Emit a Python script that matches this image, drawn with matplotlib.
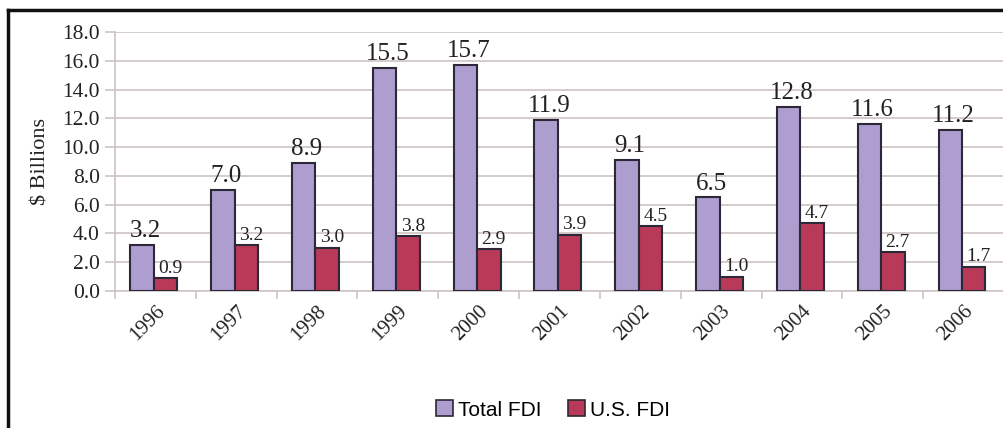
import numpy as np
import matplotlib
matplotlib.use("Agg")
import matplotlib.pyplot as plt
import matplotlib.transforms as mtrans
from matplotlib.patches import Patch
from matplotlib.lines import Line2D

# --- データ ---
years = ["1996", "1997", "1998", "1999", "2000", "2001",
         "2002", "2003", "2004", "2005", "2006"]
total_fdi = [3.2, 7.0, 8.9, 15.5, 15.7, 11.9, 9.1, 6.5, 12.8, 11.6, 11.2]
us_fdi = [0.9, 3.2, 3.0, 3.8, 2.9, 3.9, 4.5, 1.0, 4.7, 2.7, 1.7]
yticks = np.arange(0, 18.1, 2.0)

SERIF = "Liberation Serif"
SANS = "Liberation Sans"
C_TOTAL = "#ae9ecf"
C_US = "#b83a58"
EDGE = "#2c2838"
GRID = "#cdc4c4"
TXT = "#222222"

fig = plt.figure(figsize=(10.04, 4.28), dpi=100)
ax = fig.add_axes([115 / 1004, 1 - 291 / 428, (1004 - 115) / 1004, (291 - 32) / 428])

x = np.arange(len(years)) + 0.5
w = 0.29
x_tot = x - 0.165
x_us = x + 0.125

ax.bar(x_tot, total_fdi, width=w, color=C_TOTAL, edgecolor=EDGE, linewidth=1.5, zorder=3)
ax.bar(x_us, us_fdi, width=w, color=C_US, edgecolor=EDGE, linewidth=1.5, zorder=3)

# データラベル
for xi, v in zip(x_tot, total_fdi):
    ax.text(xi + 0.04, v + 0.2, f"{v:.1f}", ha="center", va="bottom",
            fontsize=18, family=SERIF, color=TXT)
for xi, v in zip(x_us, us_fdi):
    ax.text(xi + 0.06, v + 0.1, f"{v:.1f}", ha="center", va="bottom",
            fontsize=14, family=SERIF, color=TXT)

ax.set_xlim(0, len(years))
ax.set_ylim(0, 18)
ax.set_yticks(yticks)
ax.set_yticklabels([f"{t:.1f}" for t in yticks], family=SERIF, fontsize=15.5, color=TXT)
ax.yaxis.grid(True, color=GRID, linewidth=1.2, zorder=0)
ax.set_axisbelow(True)

# x目盛り: 区切り位置に目盛り線, 中央にラベル
ax.set_xticks(np.arange(len(years) + 1))
ax.set_xticklabels([])
ax.set_xticks(x, minor=True)
ax.set_xticklabels(years, minor=True, rotation=45, ha="right", va="top",
                   rotation_mode="anchor", family=SERIF, fontsize=15, color=TXT)
shift = mtrans.ScaledTranslation(-8 / 100, 0, fig.dpi_scale_trans)
for lbl in ax.get_xticklabels(minor=True):
    lbl.set_transform(lbl.get_transform() + shift)
ax.tick_params(axis="x", which="major", length=6, color=GRID, width=1.2)
ax.tick_params(axis="x", which="minor", length=0, pad=8)
ax.tick_params(axis="y", length=7, color=GRID, width=1.2, pad=4)

for s in ["top", "right"]:
    ax.spines[s].set_visible(False)
for s in ["left", "bottom"]:
    ax.spines[s].set_color(GRID)
    ax.spines[s].set_linewidth(1.2)

ax.set_ylabel("$ Billions", family=SERIF, fontsize=16, color=TXT, labelpad=8)

# 凡例
handles = [Patch(facecolor=C_TOTAL, edgecolor=EDGE, linewidth=1.2, label="Total FDI"),
           Patch(facecolor=C_US, edgecolor=EDGE, linewidth=1.2, label="U.S. FDI")]
fig.legend(handles=handles, loc="center", bbox_to_anchor=(0.551, 0.042), ncol=2,
           frameon=False, prop={"family": SANS, "size": 15}, handlelength=0.8,
           handleheight=0.8, handletextpad=0.25, columnspacing=1.3)

# 外枠
fig.add_artist(Line2D([8 / 1004, 8 / 1004], [0, 1 - 10 / 428], color="#111111", linewidth=2.5))
fig.add_artist(Line2D([8 / 1004, 1], [1 - 10 / 428, 1 - 10 / 428], color="#111111", linewidth=2.5))

fig.savefig("out.png", dpi=100)
